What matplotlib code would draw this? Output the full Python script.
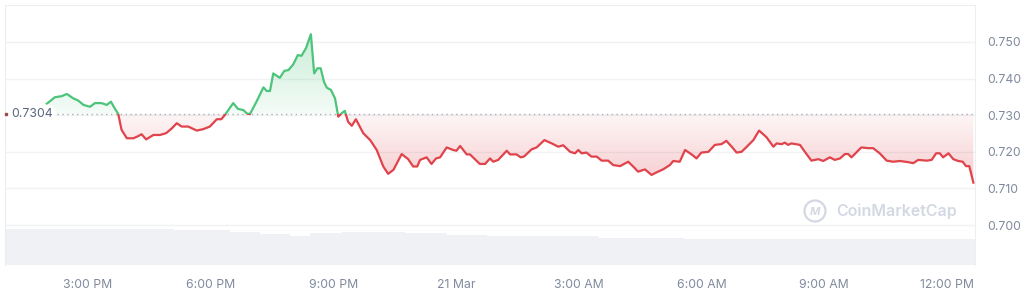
import numpy as np
import matplotlib
matplotlib.use('Agg')
import matplotlib.pyplot as plt
from matplotlib.path import Path
from matplotlib.patches import Rectangle, Ellipse
from matplotlib.transforms import blended_transform_factory

plt.rcParams['font.family'] = ['Inter', 'DejaVu Sans']

# price series (hours since 20 Mar 00:00, USD)
hours = [13.99, 14.19, 14.36, 14.48, 14.64, 14.76, 14.89, 15.05, 15.17, 15.33, 15.46, 15.56, 15.62,
         15.74, 15.82, 15.95, 16.11, 16.23, 16.31, 16.42, 16.60, 16.76, 16.91, 17.05, 17.17, 17.29,
         17.45, 17.66, 17.82, 17.98, 18.15, 18.26, 18.35,
         18.55, 18.67, 18.80, 18.88, 18.96, 19.12, 19.29, 19.37, 19.45, 19.53, 19.69, 19.80, 19.90,
         20.02, 20.13, 20.22, 20.33, 20.45, 20.53, 20.61, 20.69, 20.77, 20.84, 20.94, 21.04, 21.12,
         21.20, 21.28,
         21.36, 21.45, 21.55, 21.73, 21.90, 22.06, 22.22, 22.34, 22.47, 22.67, 22.83, 22.95, 23.05,
         23.12, 23.28, 23.40, 23.51, 23.61, 23.77, 23.93, 24.01, 24.10, 24.26, 24.34, 24.58, 24.71,
         24.83, 24.91, 25.03, 25.24, 25.32, 25.48, 25.58, 25.66, 25.85, 25.97, 26.16, 26.34, 26.50,
         26.62, 26.79, 26.91, 26.99, 27.07, 27.19, 27.31, 27.44, 27.56, 27.72, 27.84, 28.01, 28.21,
         28.33, 28.45, 28.62, 28.78, 28.94, 29.06, 29.23, 29.31, 29.47, 29.60, 29.76, 29.88, 30.00,
         30.17, 30.33, 30.49, 30.61, 30.74, 30.86, 30.98, 31.11, 31.27, 31.41, 31.59, 31.76, 31.84,
         31.96, 32.04, 32.12, 32.20, 32.41, 32.53, 32.69, 32.86, 32.98, 33.14, 33.26, 33.39, 33.51,
         33.59, 33.67, 33.91, 34.08, 34.20, 34.36, 34.53, 34.69, 34.85, 35.05, 35.18, 35.30, 35.51,
         35.63, 35.74, 35.83, 35.91, 36.04, 36.16, 36.28, 36.39, 36.47, 36.55, 36.65]
prices = [0.7331, 0.7349, 0.7352, 0.7358, 0.7346, 0.7340, 0.7328, 0.7323, 0.7333, 0.7333, 0.7328, 0.7337, 0.7325,
          0.7303, 0.7260, 0.7237, 0.7237, 0.7243, 0.7248, 0.7234, 0.7246, 0.7246, 0.7251, 0.7264, 0.7278, 0.7269,
          0.7269, 0.7258, 0.7262, 0.7269, 0.7289, 0.7289, 0.7301,
          0.7333, 0.7317, 0.7314, 0.7305, 0.7303, 0.7337, 0.7376, 0.7366, 0.7366, 0.7414, 0.7402, 0.7421, 0.7423,
          0.7439, 0.7464, 0.7462, 0.7483, 0.7521, 0.7414, 0.7428, 0.7428, 0.7391, 0.7375, 0.7369, 0.7346, 0.7296,
          0.7305, 0.7312,
          0.7282, 0.7271, 0.7289, 0.7251, 0.7232, 0.7205, 0.7160, 0.7140, 0.7151, 0.7194, 0.7180, 0.7160, 0.7160,
          0.7178, 0.7185, 0.7167, 0.7182, 0.7185, 0.7212, 0.7205, 0.7203, 0.7216, 0.7193, 0.7193, 0.7167, 0.7167,
          0.7182, 0.7173, 0.7178, 0.7203, 0.7193, 0.7193, 0.7185, 0.7187, 0.7207, 0.7212, 0.7232, 0.7223, 0.7214,
          0.7218, 0.7200, 0.7196, 0.7205, 0.7196, 0.7198, 0.7187, 0.7187, 0.7176, 0.7176, 0.7164, 0.7161, 0.7173,
          0.7160, 0.7146, 0.7152, 0.7137, 0.7146, 0.7152, 0.7164, 0.7175, 0.7173, 0.7205, 0.7193, 0.7182, 0.7198,
          0.7200, 0.7219, 0.7221, 0.7230, 0.7214, 0.7198, 0.7200, 0.7214, 0.7232, 0.7258, 0.7240, 0.7214, 0.7223,
          0.7221, 0.7225, 0.7219, 0.7223, 0.7219, 0.7200, 0.7176, 0.7180, 0.7175, 0.7185, 0.7178, 0.7182, 0.7194,
          0.7194, 0.7185, 0.7212, 0.7210, 0.7210, 0.7196, 0.7176, 0.7173, 0.7175, 0.7172, 0.7169, 0.7178, 0.7176,
          0.7178, 0.7196, 0.7196, 0.7185, 0.7196, 0.7180, 0.7175, 0.7173, 0.7161, 0.7161, 0.7116]
open_price = 0.7304

# volume (relative), stepped
vol_edges = [12.97, 17.10, 18.47, 19.21, 19.94, 20.43, 21.21, 22.75, 23.78, 24.76, 27.49, 29.57, 36.69]
vol_levels = [36.0, 35.0, 33.0, 30.5, 29.3, 31.7, 32.7, 32.0, 30.0, 28.7, 27.3, 26.3]

x_ticks = [15, 18, 21, 24, 27, 30, 33, 36]
x_labels = ['3:00 PM', '6:00 PM', '9:00 PM', '21 Mar', '3:00 AM', '6:00 AM', '9:00 AM', '12:00 PM']
y_ticks = [0.700, 0.710, 0.720, 0.730, 0.740, 0.750]

GREEN = '#4cc47a'
RED = '#e0434b'
TXT = '#808a9d'
GRID = '#f1f2f4'
MARK = '#d3d8e2'

x = np.array(hours)
p = np.array(prices)
xlim = (12.97, 36.69)
ylim = (0.68912, 0.76007)

fig = plt.figure(figsize=(10.24, 2.94), dpi=100)
rect = [5 / 1024, 29 / 294, 970 / 1024, 260 / 294]

# volume axis, underneath
axv = fig.add_axes(rect)
axv.stairs(vol_levels, vol_edges, fill=True, color='#f0f1f5', lw=0)
axv.set_xlim(*xlim)
axv.set_ylim(0, max(vol_levels) * 7.22)
axv.axis('off')

ax = fig.add_axes(rect)
ax.patch.set_visible(False)
ax.set_xlim(*xlim)
ax.set_ylim(*ylim)

for s in ['top', 'left', 'right']:
    ax.spines[s].set_color('#eceef1')
    ax.spines[s].set_linewidth(0.8)
ax.spines['bottom'].set_visible(False)

ax.set_yticks(y_ticks)
ax.set_yticklabels([f'{v:.3f}' for v in y_ticks])
ax.yaxis.tick_right()
ax.tick_params(axis='y', length=0, pad=9, labelsize=8.8, labelcolor=TXT)
ax.set_xticks(x_ticks)
ax.set_xticklabels(x_labels)
ax.tick_params(axis='x', length=0, pad=10, labelsize=8.8, labelcolor=TXT)
for v in y_ticks:
    ax.axhline(v, color=GRID, lw=1, zorder=0)


def gradient_fill(where, rgb, a_near, a_far, y_far):
    poly = ax.fill_between(x, p, open_price, where=where, interpolate=True, lw=0, alpha=0)
    path = Path.make_compound_path(*poly.get_paths())
    img = np.zeros((256, 1, 4))
    img[:, 0, :3] = matplotlib.colors.to_rgb(rgb)
    img[:, 0, 3] = np.linspace(a_near, a_far, 256)
    lo, hi = (open_price, y_far) if y_far > open_price else (y_far, open_price)
    if y_far < open_price:
        img = img[::-1]
    im = ax.imshow(img, extent=[xlim[0], xlim[1], lo, hi], origin='lower', aspect='auto', zorder=1)
    im.set_clip_path(path, transform=ax.transData)


gradient_fill(p >= open_price, GREEN, 0.06, 0.30, max(prices))
gradient_fill(p <= open_price, RED, 0.05, 0.27, min(prices))
ax.set_xlim(*xlim)
ax.set_ylim(*ylim)

# baseline
ax.axhline(open_price, xmin=52 / 970, color='#aab0ba', lw=1, ls=(0, (1, 2.5)), zorder=2)

# coloured line: green above open, red below
up = Rectangle((xlim[0], open_price), xlim[1] - xlim[0], 1, transform=ax.transData)
dn = Rectangle((xlim[0], open_price - 1), xlim[1] - xlim[0], 1, transform=ax.transData)
lg, = ax.plot(x, p, color=GREEN, lw=1.6, zorder=3, solid_joinstyle='round')
lg.set_clip_path(up)
lr, = ax.plot(x, p, color=RED, lw=1.6, zorder=3, solid_joinstyle='round')
lr.set_clip_path(dn)

# open price label
tr = blended_transform_factory(ax.transAxes, ax.transData)
ax.text(0.006, open_price, f'{open_price:.4f}', transform=tr, ha='left', va='center',
        fontsize=8.8, color='#58667e', zorder=5,
        bbox=dict(boxstyle='round,pad=0.25,rounding_size=0.6', fc='white', ec='none'))
ax.plot([0.001], [open_price], marker='s', ms=1.8, color='#a04848', transform=tr, clip_on=False, zorder=6)

# watermark
wy = 1 - 211 / 294
fig.add_artist(Ellipse((815 / 1024, wy), 21 / 1024, 21 / 294, fill=False, ec=MARK, lw=1.6))
fig.text(815 / 1024, wy - 0.004, 'M', ha='center', va='center', fontsize=8, fontweight='bold',
         fontstyle='italic', color=MARK)
fig.text(836 / 1024, wy, 'CoinMarketCap', ha='left', va='center', fontsize=11.5,
         fontweight='semibold', color=MARK)

fig.savefig('out.png', dpi=100)
